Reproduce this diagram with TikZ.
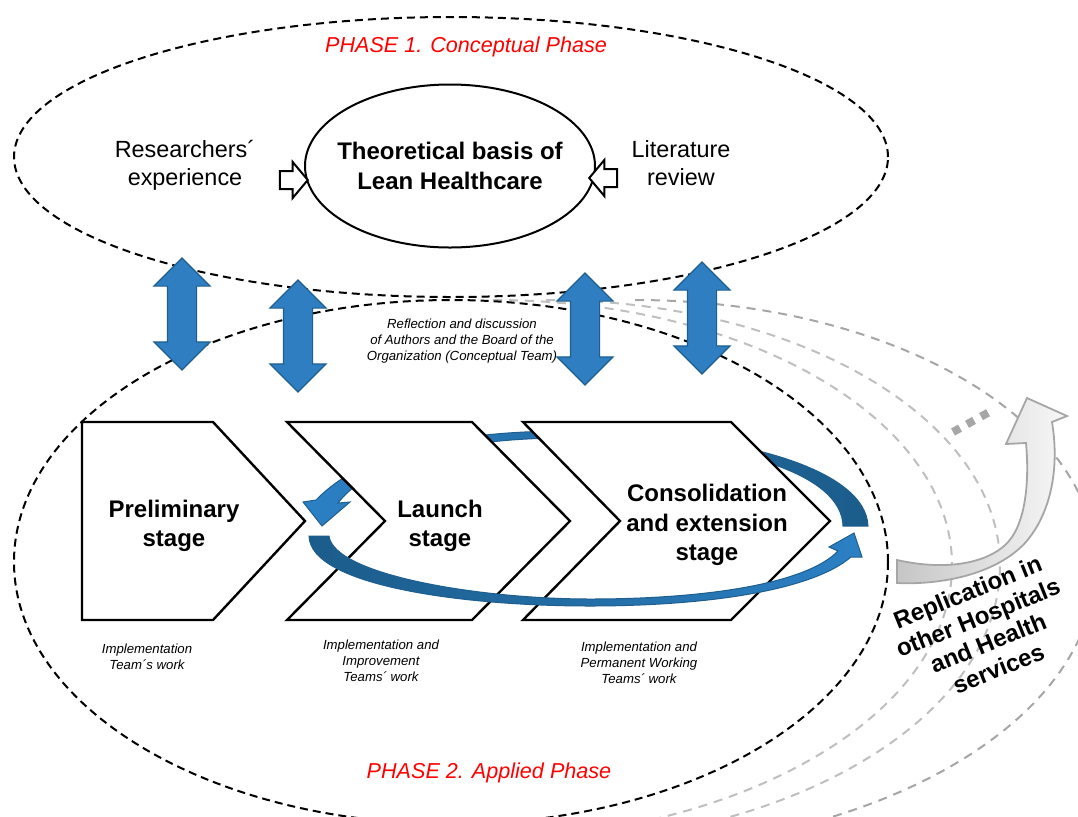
\documentclass[tikz,border=0pt]{standalone}
\usepackage{fontspec}
\setmainfont{Liberation Sans}
\usetikzlibrary{shapes.geometric,shapes.arrows}

\definecolor{arrowblue}{HTML}{2E7EC1}
\definecolor{arrowline}{HTML}{1F5F8F}
\definecolor{curvedark}{HTML}{1B5C8A}
\definecolor{curvelight}{HTML}{2B80C4}
\definecolor{ghostlight}{HTML}{BFBFBF}
\definecolor{ghostdark}{HTML}{A6A6A6}

\begin{document}
\begin{tikzpicture}
  [x=0.5pt, y=-0.5pt,
   ring/.style={draw, ellipse, inner sep=0pt,
     dash pattern=on 4pt off 2.5pt, line width=1pt},
   ghost/.style={dash pattern=on 4.5pt off 3.5pt, line width=1pt},
   phase/.style={text=red, font=\fontsize{10.8}{13}\selectfont\itshape},
   big/.style={align=center, font=\fontsize{11.7}{14}\selectfont},
   stage/.style={align=center, font=\fontsize{12}{14.8}\selectfont\bfseries},
   note/.style={align=center, font=\fontsize{6.6}{8}\selectfont\itshape},
   link/.style={double arrow, rotate=90, draw=arrowline, fill=arrowblue,
     line width=0.6pt, minimum height=56pt, minimum width=27.5pt,
     double arrow head extend=6.75pt, inner xsep=0pt, inner ysep=7pt},
   feed/.style={single arrow, draw, fill=white, line width=1pt,
     minimum height=14pt, minimum width=17pt, single arrow head extend=4.5pt,
     single arrow tip angle=100, inner xsep=0pt, inner ysep=4pt},
   chev/.style={draw, line width=1.2pt, fill=white}]

  \useasboundingbox (0,0) rectangle (1078,816);

  % replication in other places
  \draw[ghost, draw=ghostlight] (493,300) .. controls (747,300) and (952,419) .. (952,565)
    .. controls (952,717) and (736,840) .. (470,840);
  \draw[ghost, draw=ghostlight] (546,300) .. controls (797,300) and (1000,419) .. (1000,565)
    .. controls (1000,720) and (785,845) .. (520,845);
  \draw[ghost, draw=ghostdark] (635,300) .. controls (890,300) and (1096,419) .. (1096,565)
    .. controls (1096,722) and (874,850) .. (600,850);
  \path[draw=ghostdark, line width=0.9pt, left color=gray!45, right color=gray!6]
    (897,560) .. controls (950,572) and (995,562) .. (1012,537)
    .. controls (1027,515) and (1029,475) .. (1026,443) -- (1006,444) -- (1027,398)
    -- (1067,416) -- (1052,422) .. controls (1060,470) and (1050,515) .. (1025,543)
    .. controls (995,575) and (940,585) .. (897,583) -- cycle;
  \draw[ghostdark, line width=4pt, dash pattern=on 4pt off 4pt] (953,432) -- (993,410);

  % the two phases
  \node[ring, minimum width=437pt, minimum height=140pt] (conceptual) at (451,157) {};
  \node[ring, minimum width=437pt, minimum height=262pt] (applied) at (451,562) {};
  \node[phase] (conceptuallbl) at (466,47) {PHASE 1. Conceptual Phase};
  \node[phase] (appliedlbl) at (489,773) {PHASE 2. Applied Phase};

  \node[stage] (theory) at (450,166) {Theoretical basis of\\Lean Healthcare};
  \draw[line width=1pt] (theory.center) ellipse [x radius=72.5pt, y radius=40.75pt];
  \node[big] (experience) at (185,165) {Researchers´\\experience};
  \node[big] (review) at (681,163) {Literature\\review};
  \node[feed] (fromexp) at (290,180) {};
  \node[feed, rotate=180] (fromlit) at (607,178) {};

  \node[link] (linka) at (182,314) {};
  \node[link] (linkb) at (298,336) {};
  \node[link] (linkc) at (585,329) {};
  \node[link] (linkd) at (702,318) {};
  \node[note] (reflection) at (462,341)
    {Reflection and discussion\\of Authors and the Board of the\\Organization (Conceptual Team)};

  % feedback arrow, behind the stages
  \path[draw=arrowline, line width=0.5pt, left color=curvelight, right color=curvedark]
    (843,526) -- (868,526) .. controls (866,470) and (740,430) .. (560,431)
    .. controls (440,432) and (360,455) .. (316,500) -- (303,502) -- (322,526)
    -- (350,502) -- (338,503) .. controls (370,462) and (450,439) .. (560,438)
    .. controls (740,438) and (842,475) .. (843,526) -- cycle;

  % stages
  \draw[chev] (82,422) -- (213,422) -- (305,521) -- (213,620) -- (82,620) -- cycle;
  \draw[chev] (287,422) -- (472,422) -- (570,521) -- (472,620) -- (287,620) -- (385,521) -- cycle;
  \draw[chev] (523,422) -- (731,422) -- (830,521) -- (731,620) -- (523,620) -- (620,521) -- cycle;

  % forward arrow
  \path[draw=arrowline, line width=0.5pt, left color=curvedark, right color=curvelight]
    (309,536) -- (329,536) .. controls (334,575) and (480,599) .. (590,599)
    .. controls (700,599) and (805,585) .. (838,551) -- (829,547) -- (854,533)
    -- (862,557) -- (851,557) .. controls (810,592) and (700,606) .. (590,606)
    .. controls (460,606) and (310,585) .. (309,536) -- cycle;

  \node[stage] (preliminary) at (174,526) {Preliminary\\stage};
  \node[stage] (launch) at (440,526) {Launch\\stage};
  \node[stage] (consolidation) at (707,525) {Consolidation\\and extension\\stage};

  \node[note] (teamprel) at (147,657) {Implementation\\Team´s work};
  \node[note] (teamlaunch) at (381,661) {Implementation and\\Improvement\\Teams´ work};
  \node[note] (teamcons) at (639,663) {Implementation and\\Permanent Working\\Teams´ work};

  \node[stage, rotate=22, font=\fontsize{12}{13.7}\selectfont\bfseries] (replication)
    at (983,630) {Replication in\\other Hospitals\\and Health\\services};
\end{tikzpicture}
\end{document}
